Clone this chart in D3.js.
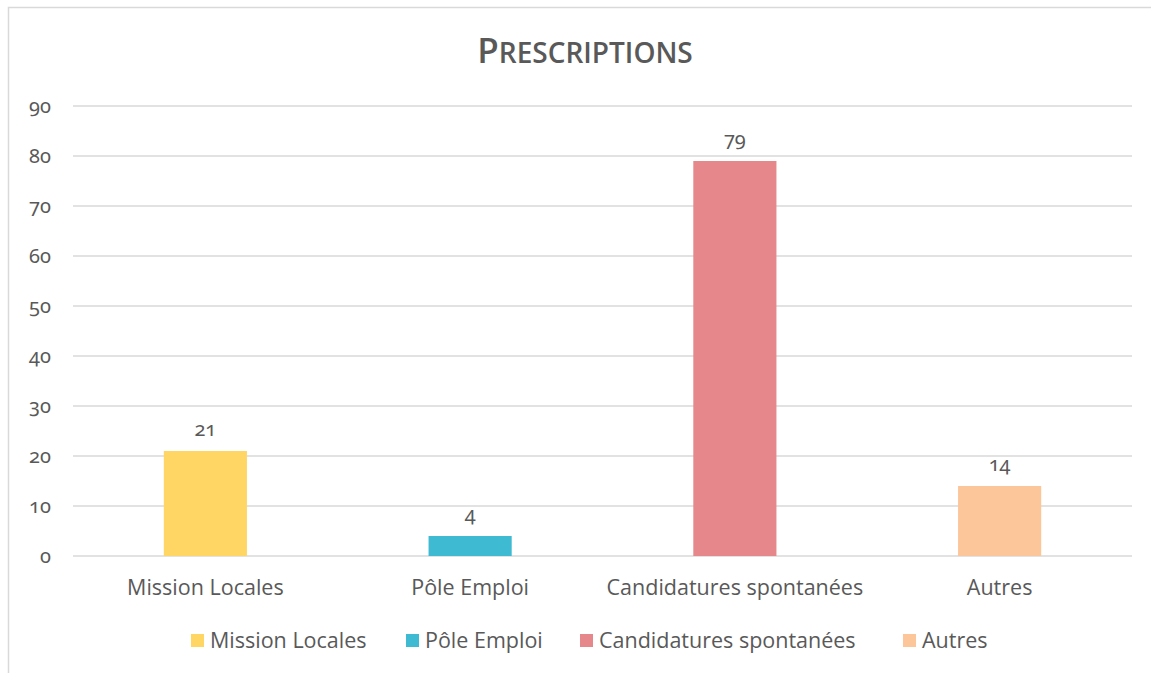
<!DOCTYPE html>
<html><head><meta charset="utf-8">
<script src="https://cdn.jsdelivr.net/npm/d3@7"></script>
<style>
body{margin:0;background:#fff;}
text{font-family:"Open Sans","Noto Sans",sans-serif;fill:#595959;}
.num{font-family:"Noto Sans","Open Sans",sans-serif;font-feature-settings:"onum" 1;font-variant-numeric:oldstyle-nums;}
</style></head>
<body>
<svg id="c" width="1151" height="673"></svg>
<script>
const categories = ["Mission Locales","Pôle Emploi","Candidatures spontanées","Autres"];
const values = [21,4,79,14];
const colors = ["#FFD664","#3FBAD3","#E6878B","#FCC59A"];
const yTicks = [0,10,20,30,40,50,60,70,80,90];
const title = "Prescriptions";

const svg = d3.select("#c");
svg.append("path").attr("d","M8.5,673 V7.5 H1151").attr("fill","none").attr("stroke","#d9d9d9").attr("stroke-width",1.5);

const pL=73, pR=1132, pT=106, pB=556;
const x = d3.scaleBand().domain(categories).range([pL,pR]).paddingInner(0.686).paddingOuter(0.343);
const y = d3.scaleLinear().domain([0,90]).range([pB,pT]);

svg.append("g").selectAll("line").data(yTicks).join("line")
  .attr("x1",pL).attr("x2",pR).attr("y1",d=>y(d)).attr("y2",d=>y(d))
  .attr("stroke","#d9d9d9").attr("stroke-width",1.5);

const yAxis = d3.axisLeft(y).tickValues(yTicks).tickSize(0).tickPadding(0);
const ga = svg.append("g").attr("transform",`translate(51,0)`).call(yAxis);
ga.select(".domain").remove();
ga.selectAll("text").attr("class","num").style("font-size","20px").attr("fill","#595959").attr("dy","0.3em");

svg.append("g").selectAll("rect").data(values).join("rect")
  .attr("x",(d,i)=>x(categories[i])).attr("width",x.bandwidth())
  .attr("y",d=>y(d)).attr("height",d=>y(0)-y(d)).attr("fill",(d,i)=>colors[i]);

svg.append("g").selectAll("text").data(values).join("text")
  .attr("class","num")
  .attr("x",(d,i)=>x(categories[i])+x.bandwidth()/2).attr("y",d=>y(d)-15)
  .attr("text-anchor","middle").style("font-size","20px").text(d=>d);

const xAxis = d3.axisBottom(x).tickSize(0).tickPadding(0);
const gx = svg.append("g").attr("transform",`translate(0,${pB})`).call(xAxis);
gx.select(".domain").remove();
gx.selectAll("text").style("font-size","21.5px").attr("fill","#595959").attr("y",39).attr("dy",0)
  .style("font-family",'"Open Sans","Noto Sans",sans-serif');

const t = svg.append("text").attr("x",585).attr("y",63).attr("text-anchor","middle")
  .style("font-weight","600").style("font-size","35px");
t.append("tspan").text(title[0].toUpperCase());
t.append("tspan").style("font-size","28px").text(title.slice(1).toUpperCase());

const legX = [191,406,580,903];
const lg = svg.append("g").selectAll("g").data(categories).join("g")
  .attr("transform",(d,i)=>`translate(${legX[i]},634)`);
lg.append("rect").attr("width",13).attr("height",13).attr("fill",(d,i)=>colors[i]);
lg.append("text").attr("x",19).attr("y",14).style("font-size","21.5px").text(d=>d);
</script>
</body></html>
